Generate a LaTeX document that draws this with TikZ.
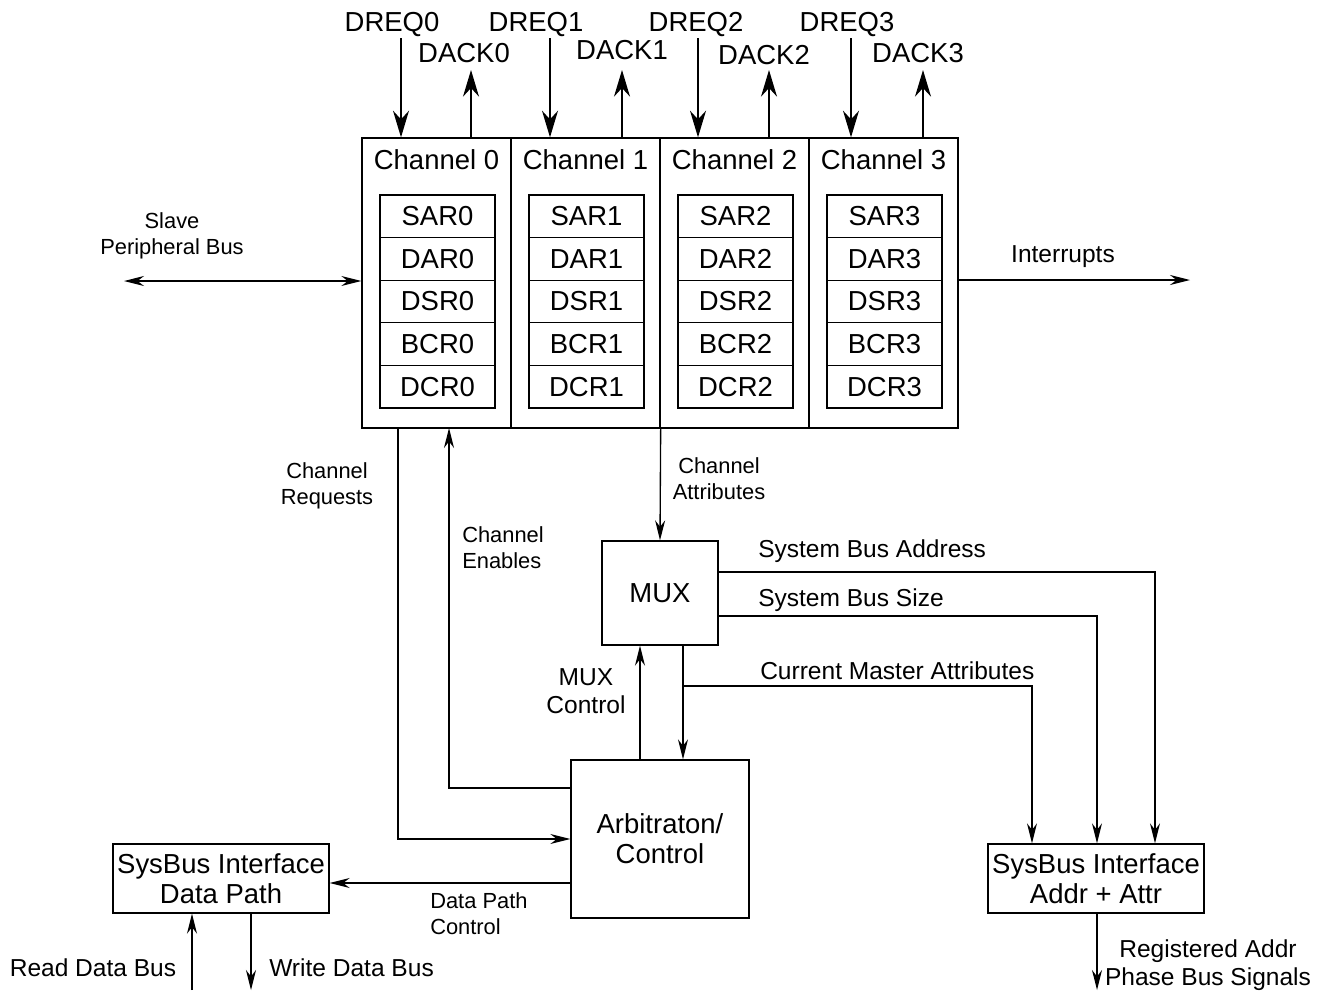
\documentclass[tikz,border=0pt]{standalone}
\usepackage{fontspec}
\setmainfont{Liberation Sans}
\usetikzlibrary{arrows.meta}

\tikzset{
    big/.style={font=\fontsize{20.6}{22.5}\selectfont},
    med/.style={font=\fontsize{18.4}{21}\selectfont},
    sml/.style={font=\fontsize{16.4}{19.5}\selectfont},
    lbl/.style={inner sep=0pt, align=center},
    blk/.style={draw, line width=1pt, inner sep=0pt, align=center, big},
    reg/.style={blk, minimum width=86.25pt, minimum height=31.95pt},
    wire/.style={line width=1pt, >={Stealth[length=15pt,width=7.5pt]}, ->},
    pin/.style={line width=1pt, >={Stealth[length=20pt,width=12pt]}, ->},
}

\begin{document}
\begin{tikzpicture}[x=0.75pt, y=-0.75pt]
    \useasboundingbox (0,0) rectangle (1327,993);
    % channels with their registers
    \foreach \i in {0,...,3} {
        \node[blk, minimum width=111.75pt, minimum height=217.5pt] (ch\i) at (436.5+149*\i,283) {};
        \node[big] (cht\i) at (436.5+149*\i,160) {Channel \i};
        \foreach \r [count=\j from 0] in {SAR,DAR,DSR,BCR,DCR} {
            \node[reg] (\r\i) at (437.5+149*\i,216.3+42.6*\j) {\r\i};
        }
    }
    % request / acknowledge pins
    \foreach \i/\q/\a/\ql/\al/\ay in {0/401/471/392/464/53,1/550/622/536/622/50,2/698/769/696/764/55,3/851/923/847/918/53} {
        \node[big, lbl] (dreq\i) at (\ql,25) {DREQ\i};
        \node[big, lbl] (dack\i) at (\al,\ay) {DACK\i};
        \coordinate (rq\i) at (\q,38);
        \coordinate (ak\i) at (\a,70);
        \draw[pin] (rq\i) -- (rq\i |- ch\i.north);
        \draw[pin] (ak\i |- ch\i.north) -- (ak\i);
    }

    \node[blk, minimum width=87pt, minimum height=78pt] (mux) at (660,593) {MUX};
    \node[blk, minimum width=133.5pt, minimum height=118.5pt] (arb) at (660,839) {Arbitraton/\\Control};
    \node[blk, minimum width=162pt, minimum height=51.75pt] (sbd) at (221,878.5) {SysBus Interface\\Data Path};
    \node[blk, minimum width=162pt, minimum height=51.75pt] (sba) at (1096,878.5) {SysBus Interface\\Addr + Attr};

    % side buses
    \coordinate (spb) at (124,281);
    \draw[wire, <->] (spb) -- (spb -| ch0.west);
    \node[sml, lbl] (spbl) at (172,236) {Slave\\Peripheral Bus};
    \coordinate (irq) at (1190,280);
    \draw[wire] (irq -| ch3.east) -- (irq);
    \node[med, lbl] (irql) at (1063,257) {Interrupts};

    % channel <-> arbitration
    \coordinate (creq) at (398,428);
    \draw[wire] (creq) |- (arb.west);
    \node[sml, lbl] (creql) at (327,486) {Channel\\Requests};
    \coordinate (cen) at (449,428);
    \draw[wire] (arb.west |- 0,788) -| (cen);
    \node[sml, lbl, anchor=west, align=left] (cenl) at (462,548) {Channel\\Enables};
    \draw[wire] (ch1.south east) -- (mux.north);
    \node[sml, lbl] (cattl) at (719,479) {Channel\\Attributes};

    % mux <-> arbitration
    \coordinate (mc) at (640,760);
    \draw[wire] (mc) -- (mc |- mux.south);
    \node[med, lbl] (mcl) at (586,691) {MUX\\Control};
    \coordinate (mo) at (683,645);
    \draw[wire] (mo) -- (mo |- arb.north);

    % mux outputs to address interface
    \coordinate (sbA) at (1155,572);
    \coordinate (sbS) at (1097,616);
    \coordinate (cma) at (1032,686);
    \draw[wire] (mux.east |- sbA) -- (sbA) -- (sbA |- sba.north);
    \draw[wire] (mux.east |- sbS) -- (sbS) -- (sbS |- sba.north);
    \draw[wire] (mo |- cma) -- (cma) -- (cma |- sba.north);
    \node[med, lbl, anchor=west] (sbAl) at (758,551) {System Bus Address};
    \node[med, lbl, anchor=west] (sbSl) at (758,600) {System Bus Size};
    \node[med, lbl, anchor=west] (cmal) at (760,671) {Current Master Attributes};

    % data path
    \coordinate (dpc) at (0,883);
    \draw[wire] (arb.west |- dpc) -- (sbd.east |- dpc);
    \node[sml, lbl, anchor=west, align=left] (dpcl) at (430,914) {Data Path\\Control};
    \coordinate (rd) at (192,990);
    \coordinate (wd) at (251,990);
    \draw[wire] (rd) -- (rd |- sbd.south);
    \draw[wire] (wd |- sbd.south) -- (wd);
    \node[med, lbl] (rdl) at (93,968) {Read Data Bus};
    \node[med, lbl, anchor=west] (wdl) at (269,968) {Write Data Bus};

    % registered outputs
    \coordinate (rg) at (1097,990);
    \draw[wire] (rg |- sba.south) -- (rg);
    \node[med, lbl] (rgl) at (1208,965) {Registered Addr\\Phase Bus Signals};
\end{tikzpicture}
\end{document}
